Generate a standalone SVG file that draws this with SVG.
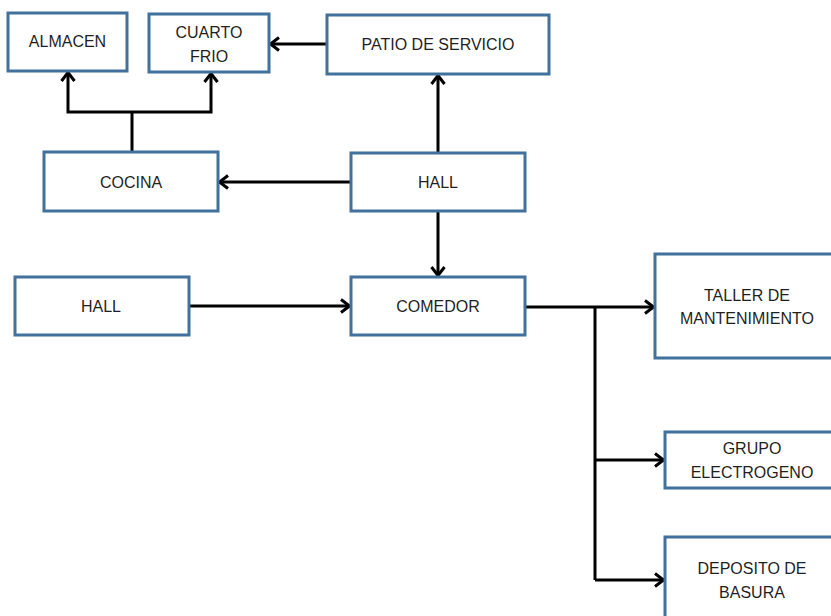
<svg xmlns="http://www.w3.org/2000/svg" width="831" height="616" viewBox="0 0 831 616">
<style>
.box{fill:#fff;stroke:#41719c;stroke-width:3}
.t{font-family:"Liberation Sans",Arial,sans-serif;font-size:16px;fill:#1f1f1f;text-anchor:middle}
.c{fill:none;stroke:#000;stroke-width:3}
</style>
<defs>
<marker id="ah" markerUnits="userSpaceOnUse" viewBox="0 0 12 16" refX="10.5" refY="8" markerWidth="12" markerHeight="16" orient="auto">
<path d="M1.5,1.5 L10,8 L1.5,14.5" fill="none" stroke="#000" stroke-width="3"/>
</marker>
</defs>
<rect width="831" height="616" fill="#fff"/>
<g id="connectors">
<path class="c" d="M132,152 V112"/>
<path class="c" d="M132,112 H68 V72" marker-end="url(#ah)"/>
<path class="c" d="M132,112 H211 V73" marker-end="url(#ah)"/>
<path class="c" d="M327,44 H270" marker-end="url(#ah)"/>
<path class="c" d="M351,182 H219" marker-end="url(#ah)"/>
<path class="c" d="M438,153 V75" marker-end="url(#ah)"/>
<path class="c" d="M438,211 V276" marker-end="url(#ah)"/>
<path class="c" d="M189,306 H350" marker-end="url(#ah)"/>
<path class="c" d="M525,307 H654" marker-end="url(#ah)"/>
<path class="c" d="M595,307 V580"/>
<path class="c" d="M595,460 H664" marker-end="url(#ah)"/>
<path class="c" d="M595,580 H664" marker-end="url(#ah)"/>
</g>
<g id="almacen"><rect class="box" x="8" y="13" width="119" height="58"/><text class="t" x="67.5" y="47">ALMACEN</text></g>
<g id="cuarto-frio"><rect class="box" x="149" y="14" width="120" height="58"/><text class="t" x="209" y="38">CUARTO</text><text class="t" x="209" y="62">FRIO</text></g>
<g id="patio"><rect class="box" x="327" y="15" width="222" height="59"/><text class="t" x="438" y="50">PATIO DE SERVICIO</text></g>
<g id="cocina"><rect class="box" x="44" y="152" width="174" height="59"/><text class="t" x="131" y="188">COCINA</text></g>
<g id="hall-top"><rect class="box" x="351" y="153" width="174" height="58"/><text class="t" x="438" y="188">HALL</text></g>
<g id="hall-left"><rect class="box" x="15" y="277" width="174" height="58"/><text class="t" x="101" y="312">HALL</text></g>
<g id="comedor"><rect class="box" x="351" y="277" width="174" height="58"/><text class="t" x="438" y="312">COMEDOR</text></g>
<g id="taller"><rect class="box" x="655" y="254" width="184" height="104"/><text class="t" x="747" y="301">TALLER DE</text><text class="t" x="747" y="324">MANTENIMIENTO</text></g>
<g id="grupo"><rect class="box" x="665" y="432" width="174" height="56"/><text class="t" x="752" y="454">GRUPO</text><text class="t" x="752" y="478">ELECTROGENO</text></g>
<g id="deposito"><rect class="box" x="665" y="537" width="174" height="90"/><text class="t" x="752" y="574">DEPOSITO DE</text><text class="t" x="752" y="598">BASURA</text></g>
</svg>
